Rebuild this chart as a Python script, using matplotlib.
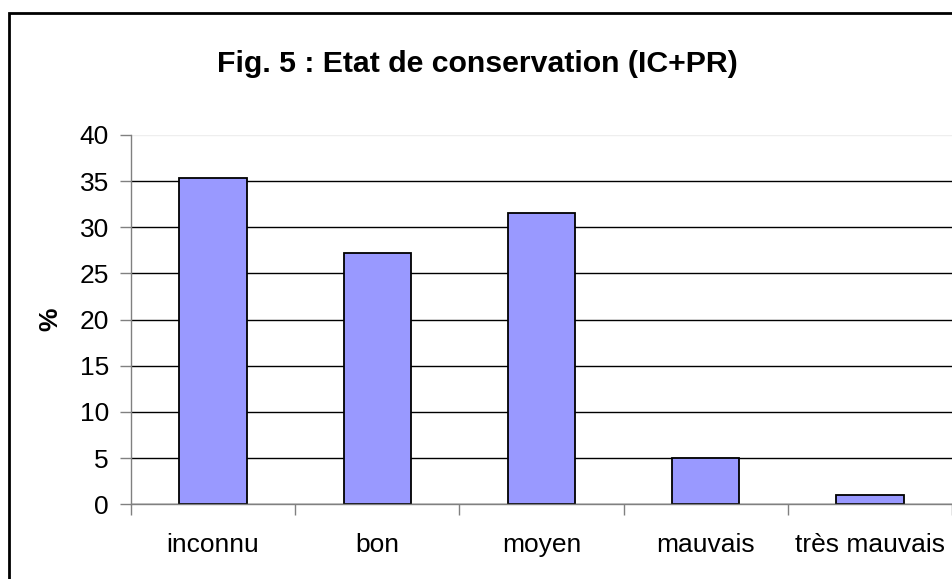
import matplotlib.pyplot as plt
from matplotlib.patches import Rectangle
import numpy as np

categories = ["inconnu", "bon", "moyen", "mauvais", "très mauvais"]
values = [35.3, 27.2, 31.5, 5.0, 1.0]
y_ticks = [0, 5, 10, 15, 20, 25, 30, 35, 40]

plt.rcParams["font.family"] = ["Liberation Sans", "DejaVu Sans"]

W, H = 953, 579
fig = plt.figure(figsize=(W / 100, H / 100), dpi=100)
ax = fig.add_axes([131 / W, 1 - 504.3 / H, (952 - 131) / W, (504.3 - 135) / H])

x = np.arange(len(categories))
ax.bar(x, values, width=0.41, color="#9999FF", edgecolor="black",
       linewidth=1.3, zorder=3)

ax.set_xlim(-0.5, len(categories) - 0.5)
ax.set_ylim(0, 40)
ax.set_yticks(y_ticks)
ax.set_xticks(x)
ax.set_xticklabels(categories)
# category boundary ticks like Excel
ax.set_xticks(np.arange(len(categories) + 1) - 0.5, minor=True)
ax.tick_params(axis="x", which="major", length=0, pad=21, labelsize=19)
ax.tick_params(axis="x", which="minor", length=8, width=1, color="#808080",
               direction="out")
ax.tick_params(axis="y", length=8, width=1, color="#808080", pad=8,
               labelsize=19, direction="out")

ax.grid(axis="y", color="black", linewidth=1, zorder=0)
# the top gridline is barely visible in the original
ax.get_ygridlines()[-1].set_color("#eeeeee")
for side in ["top", "right"]:
    ax.spines[side].set_visible(False)
for side in ["left", "bottom"]:
    ax.spines[side].set_color("#808080")
    ax.spines[side].set_linewidth(1)
    ax.spines[side].set_zorder(4)

ax.set_ylabel("%", fontsize=19, fontweight="bold", labelpad=12)

fig.text(477 / W, 1 - 72 / H, "Fig. 5 : Etat de conservation (IC+PR)",
         ha="center", va="baseline", fontsize=21.8, fontweight="bold")

# chart area border (cropped on right and bottom)
fig.patches.append(Rectangle((9 / W, -0.05), 1.1, 1.05 - 13 / H,
                             transform=fig.transFigure, fill=False,
                             edgecolor="black", linewidth=2, clip_on=False))

fig.savefig("out.png", dpi=100)
